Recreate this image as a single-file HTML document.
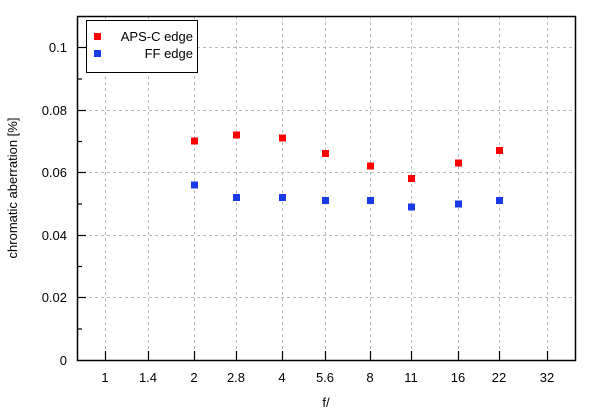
<!DOCTYPE html>
<html><head><style>body{margin:0;background:#fff}svg{display:block}text{font-family:"Liberation Sans",sans-serif;font-size:13px;fill:#000}</style></head>
<body>
<svg width="600" height="415" xmlns="http://www.w3.org/2000/svg">
<g stroke="#bbb" stroke-dasharray="3,3" stroke-width="1">
<line x1="105.5" y1="16" x2="105.5" y2="360"/><line x1="148.5" y1="16" x2="148.5" y2="360"/><line x1="194.5" y1="16" x2="194.5" y2="360"/><line x1="236.5" y1="16" x2="236.5" y2="360"/><line x1="282.5" y1="16" x2="282.5" y2="360"/><line x1="325.5" y1="16" x2="325.5" y2="360"/><line x1="370.5" y1="16" x2="370.5" y2="360"/><line x1="411.5" y1="16" x2="411.5" y2="360"/><line x1="458.5" y1="16" x2="458.5" y2="360"/><line x1="499.5" y1="16" x2="499.5" y2="360"/><line x1="547.5" y1="16" x2="547.5" y2="360"/>
<line x1="77" y1="47.5" x2="575" y2="47.5"/><line x1="77" y1="110.5" x2="575" y2="110.5"/><line x1="77" y1="172.5" x2="575" y2="172.5"/><line x1="77" y1="235.5" x2="575" y2="235.5"/><line x1="77" y1="297.5" x2="575" y2="297.5"/>
</g>
<rect x="77.5" y="16.5" width="498" height="344" fill="none" stroke="#000" stroke-width="1.5"/>
<g stroke="#000" stroke-width="1.2">
<line x1="77" y1="47.5" x2="86" y2="47.5"/><line x1="77" y1="110.5" x2="86" y2="110.5"/><line x1="77" y1="172.5" x2="86" y2="172.5"/><line x1="77" y1="235.5" x2="86" y2="235.5"/><line x1="77" y1="297.5" x2="86" y2="297.5"/>
<line x1="77" y1="79" x2="82" y2="79"/><line x1="77" y1="141.5" x2="82" y2="141.5"/><line x1="77" y1="204" x2="82" y2="204"/><line x1="77" y1="266.5" x2="82" y2="266.5"/><line x1="77" y1="329" x2="82" y2="329"/>
<line x1="105.5" y1="360" x2="105.5" y2="351"/><line x1="148.5" y1="360" x2="148.5" y2="351"/><line x1="194.5" y1="360" x2="194.5" y2="351"/><line x1="236.5" y1="360" x2="236.5" y2="351"/><line x1="282.5" y1="360" x2="282.5" y2="351"/><line x1="325.5" y1="360" x2="325.5" y2="351"/><line x1="370.5" y1="360" x2="370.5" y2="351"/><line x1="411.5" y1="360" x2="411.5" y2="351"/><line x1="458.5" y1="360" x2="458.5" y2="351"/><line x1="499.5" y1="360" x2="499.5" y2="351"/><line x1="547.5" y1="360" x2="547.5" y2="351"/>
</g>
<g text-anchor="end">
<text x="67" y="52">0.1</text><text x="67" y="115">0.08</text><text x="67" y="177">0.06</text><text x="67" y="240">0.04</text><text x="67" y="302">0.02</text><text x="67" y="365">0</text>
</g>
<g text-anchor="middle">
<text x="105" y="382">1</text><text x="148" y="382">1.4</text><text x="194" y="382">2</text><text x="236" y="382">2.8</text><text x="282" y="382">4</text><text x="325" y="382">5.6</text><text x="370" y="382">8</text><text x="411" y="382">11</text><text x="458" y="382">16</text><text x="499" y="382">22</text><text x="547" y="382">32</text>
<text x="326" y="407">f/</text>
<text transform="translate(17,188) rotate(-90)">chromatic aberration [%]</text>
</g>
<g fill="#f00">
<rect x="191" y="137.5" width="7" height="7"/><rect x="233" y="131.5" width="7" height="7"/><rect x="279" y="134.5" width="7" height="7"/><rect x="322" y="150" width="7" height="7"/><rect x="367" y="162.5" width="7" height="7"/><rect x="408" y="175" width="7" height="7"/><rect x="455" y="159.5" width="7" height="7"/><rect x="496" y="147" width="7" height="7"/>
</g>
<g fill="#1a3ae8">
<rect x="191" y="181.5" width="7" height="7"/><rect x="233" y="194" width="7" height="7"/><rect x="279" y="194" width="7" height="7"/><rect x="322" y="197" width="7" height="7"/><rect x="367" y="197" width="7" height="7"/><rect x="408" y="203.5" width="7" height="7"/><rect x="455" y="200.5" width="7" height="7"/><rect x="496" y="197" width="7" height="7"/>
</g>
<rect x="86.5" y="20.5" width="111" height="52" fill="#fff" stroke="#000" stroke-width="1"/>
<rect x="94" y="33" width="7" height="7" fill="#f00"/>
<rect x="94" y="50" width="7" height="7" fill="#1a3ae8"/>
<g text-anchor="end"><text x="193" y="41">APS-C edge</text><text x="193" y="58">FF edge</text></g>
</svg>
</body></html>
